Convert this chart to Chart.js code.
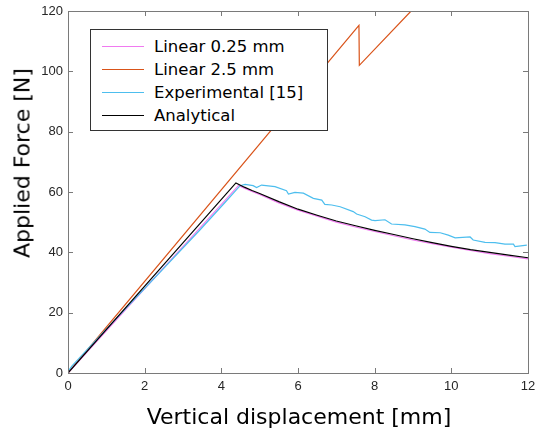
<!DOCTYPE html>
<html>
<head>
<meta charset="utf-8">
<script src="https://cdn.jsdelivr.net/npm/chart.js@4/dist/chart.umd.min.js"></script>
<style>
  body { margin: 0; background: #fff; }
  #wrap { position: relative; width: 538px; height: 437px; }
  #grafico { position: absolute; left: 0; top: 0; }
  .titulo { position: absolute; font-family: "DejaVu Sans", sans-serif; font-size: 22px; color: #000; white-space: nowrap; }
  #tituloY { left: 22px; top: 163px; transform: translate(-50%, -50%) rotate(-90deg); }
  #tituloX { left: 299px; top: 416px; transform: translate(-50%, -50%); }
  #leyenda { position: absolute; left: 90px; top: 29px; width: 236px; height: 95px; padding-top: 5px;
             border: 1px solid #333; background: #fff; font-family: "DejaVu Sans", sans-serif; font-size: 16.5px; }
  .fila { position: relative; height: 23px; line-height: 23px; }
  .fila span.linea { position: absolute; left: 11px; top: 11px; width: 42px; height: 0; border-top: 1.4px solid; }
  .fila span.texto { position: absolute; left: 63px; top: 0; }
</style>
</head>
<body>
<div id="wrap">
  <canvas id="grafico" width="538" height="437"></canvas>
  <div id="leyenda"></div>
  <div class="titulo" id="tituloY">Applied Force [N]</div>
  <div class="titulo" id="tituloX">Vertical displacement [mm]</div>
</div>
<script>
// valores
const xLineal025 = [0, 4.45, 4.6, 4.8, 5, 5.5, 6, 6.5, 7, 7.5, 8, 8.5, 9, 9.5, 10, 10.5, 11, 11.5, 12]
const yLineal025 = [0, 62.2, 61.3, 60.2, 59.2, 56.4, 54.0, 52.0, 50.0, 48.4, 46.9, 45.5, 44.1, 42.9, 41.7, 40.6, 39.6, 38.7, 37.8]

const xLineal25 = [0, 7.59, 7.6, 8.95]
const yLineal25 = [0, 115.2, 102, 120]

const xExperimental = [0, 0.1, 0.9, 3.44, 4.10, 4.49, 4.62, 4.83, 4.92, 5.05, 5.40, 5.70, 5.75, 5.92, 6.14, 6.40, 6.62, 6.70, 6.88, 7.10, 7.44, 7.53, 7.75, 7.92, 8.01, 8.27, 8.44, 8.79, 9.05, 9.31, 9.44, 9.71, 9.92, 10.10, 10.49, 10.57, 10.88, 11.14, 11.40, 11.62, 11.66, 11.97]
const yExperimental = [0.5, 2.3, 13.2, 47.4, 56.6, 62.1, 62.5, 62.1, 61.5, 62.3, 61.8, 60.4, 59.3, 59.9, 59.6, 57.9, 57.3, 55.9, 55.7, 55.1, 53.5, 52.7, 51.8, 50.7, 50.5, 50.8, 49.4, 49.1, 48.5, 47.7, 46.6, 46.5, 45.7, 44.8, 45.1, 44.1, 43.3, 43.2, 42.7, 42.7, 41.9, 42.4]

const xAnalitico = [0, 4.38, 4.6, 4.8, 5, 5.5, 6, 6.5, 7, 7.5, 8, 8.5, 9, 9.5, 10, 10.5, 11, 11.5, 12]
const yAnalitico = [0, 63, 61.6, 60.5, 59.5, 56.8, 54.3, 52.3, 50.4, 48.8, 47.3, 45.9, 44.5, 43.2, 42.0, 40.9, 40.0, 39.1, 38.2]

const ticksX = [0, 2, 4, 6, 8, 10, 12]
const ticksY = [0, 20, 40, 60, 80, 100, 120]

const puntos = (xs, ys) => xs.map((x, i) => ({ x: x, y: ys[i] }))

const series = [
    { label: 'Linear 0.25 mm', data: puntos(xLineal025, yLineal025), color: '#f07af0', order: 2 },
    { label: 'Linear 2.5 mm', data: puntos(xLineal25, yLineal25), color: '#d95319', order: 3 },
    { label: 'Experimental [15]', data: puntos(xExperimental, yExperimental), color: '#4dbeee', order: 1 },
    { label: 'Analytical', data: puntos(xAnalitico, yAnalitico), color: '#000000', order: 0 }
]

//PLUGIN PARA DIBUJAR MARCAS HACIA ADENTRO Y EL MARCO
const marcasInternas = {
    id: 'marcasInternas',
    afterDatasetsDraw(chart) {
        const ctx = chart.ctx
        const a = chart.chartArea
        const sx = chart.scales.x
        const sy = chart.scales.y
        ctx.save()
        ctx.strokeStyle = '#7a7a7a'
        ctx.lineWidth = 1
        ctx.beginPath()
        sx.ticks.forEach(t => {
            const px = Math.round(sx.getPixelForValue(t.value)) + 0.5
            ctx.moveTo(px, a.bottom); ctx.lineTo(px, a.bottom - 5)
            ctx.moveTo(px, a.top); ctx.lineTo(px, a.top + 5)
        })
        sy.ticks.forEach(t => {
            const py = Math.round(sy.getPixelForValue(t.value)) + 0.5
            ctx.moveTo(a.left, py); ctx.lineTo(a.left + 5, py)
            ctx.moveTo(a.right, py); ctx.lineTo(a.right - 5, py)
        })
        ctx.stroke()
        ctx.strokeRect(Math.round(a.left) + 0.5, Math.round(a.top) + 0.5, Math.round(a.right - a.left), Math.round(a.bottom - a.top))
        ctx.restore()
    }
}

const ctx = document.querySelector('#grafico').getContext('2d')
const chart = new Chart(ctx, {
    type: 'scatter',
    data: {
        datasets: series.map(s => ({
            label: s.label,
            data: s.data,
            showLine: true,
            borderColor: s.color,
            backgroundColor: s.color,
            borderWidth: 1.2,
            pointRadius: 0,
            tension: 0,
            order: s.order
        }))
    },
    options: {
        responsive: false,
        animation: false,
        layout: { padding: { top: 11, right: 10, left: 0, bottom: 0 } },
        plugins: { legend: { display: false }, tooltip: { enabled: false } },
        scales: {
            x: {
                type: 'linear', min: 0, max: 12,
                afterBuildTicks: s => { s.ticks = ticksX.map(v => ({ value: v })) },
                afterFit: s => { s.height = 64; s.paddingRight = 0; s.paddingLeft = 0 },
                grid: { display: false, drawTicks: false },
                border: { display: false },
                ticks: { padding: 6, color: '#262626', font: { family: 'Liberation Sans', size: 13 } }
            },
            y: {
                type: 'linear', min: 0, max: 120,
                afterBuildTicks: s => { s.ticks = ticksY.map(v => ({ value: v })) },
                afterFit: s => { s.width = 68; s.paddingTop = 0; s.paddingBottom = 0 },
                grid: { display: false, drawTicks: false },
                border: { display: false },
                ticks: { padding: 5, color: '#262626', font: { family: 'Liberation Sans', size: 13 } }
            }
        }
    },
    plugins: [marcasInternas]
})

//LEYENDA
const leyenda = document.querySelector('#leyenda')
series.forEach(s => {
    const fila = document.createElement('div')
    fila.className = 'fila'
    fila.innerHTML = `<span class="linea" style="border-color:${s.color}"></span><span class="texto">${s.label}</span>`
    leyenda.appendChild(fila)
})
</script>
</body>
</html>
